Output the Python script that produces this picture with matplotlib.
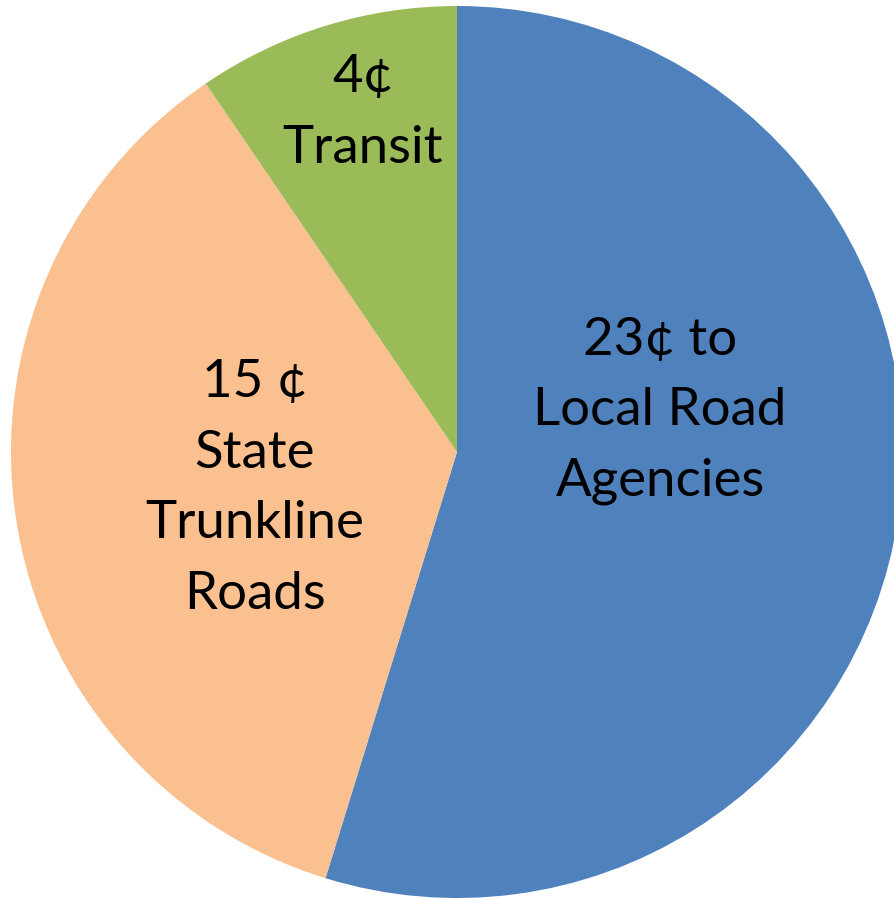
import matplotlib.pyplot as plt

labels = ["23\u00a2 to\nLocal Road\nAgencies", "15 \u00a2\nState\nTrunkline\nRoads", "4\u00a2\nTransit"]
values = [23, 15, 4]
colors = ["#4F81BD", "#FAC090", "#9BBB59"]

# label spots (data units, pie radius = 1)
label_pos = [(0.455, 0.092), (-0.453, -0.082), (-0.211, 0.76)]

fig = plt.figure(figsize=(8.94, 8.98), dpi=100)
ax = fig.add_axes([0, 0, 1, 1])

ax.pie(values, colors=colors, startangle=90, counterclock=False,
       radius=1, center=(0, 0), wedgeprops=dict(linewidth=0))

for txt, (x, y) in zip(labels, label_pos):
    ax.text(x, y, txt, ha="center", va="center", fontsize=38,
            family="Lato", linespacing=1.62, color="black")

scale = 446.0
ax.set_xlim(-457 / scale, (894 - 457) / scale)
ax.set_ylim(-(898 - 452) / scale, 452 / scale)
ax.set_aspect("auto")
ax.axis("off")

fig.savefig("out.png", dpi=100)
